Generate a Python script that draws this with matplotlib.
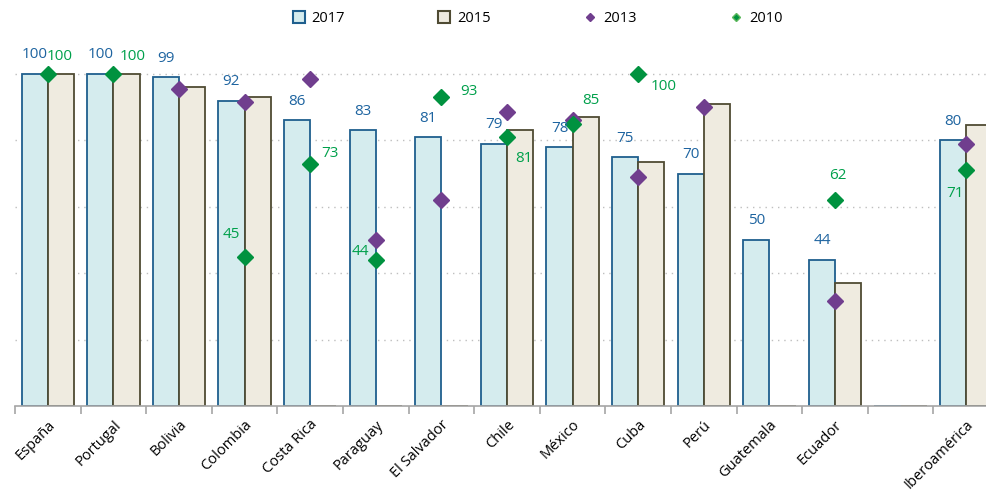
import numpy as np
import matplotlib
matplotlib.use("Agg")
import matplotlib.pyplot as plt
from matplotlib.lines import Line2D

nan = np.nan
categories = ["España", "Portugal", "Bolivia", "Colombia", "Costa Rica", "Paraguay",
              "El Salvador", "Chile", "México", "Cuba", "Perú", "Guatemala", "Ecuador",
              "", "Iberoamérica"]
v2017 = [100, 100, 99, 92, 86, 83, 81, 79, 78, 75, 70, 50, 44, nan, 80]
v2015 = [100, 100, 96, 93, nan, nan, nan, 83, 87, 73.5, 91, nan, 37, nan, 84.5]
v2013 = [nan, nan, 95.5, 91.5, 98.5, 50, 62, 88.5, 86, 69, 90, nan, 31.5, nan, 79]
v2010 = [100, 100, nan, 45, 73, 44, 93, 81, 85, 100, nan, nan, 62, nan, 71]

# label offsets (pixels) for the 2010 value labels
off2010 = {0: (12, 17), 1: (19, 18), 3: (-13, 22), 4: (20, 10), 5: (-15, 8),
           6: (28, 6), 7: (17, -21), 8: (18, 23), 9: (25, -12), 12: (3, 25),
           14: (-11, -23)}

c17_face, c17_edge = "#D5ECEE", "#1F5F8E"
c15_face, c15_edge = "#EFEBE0", "#4F4B33"
c13 = "#703E8E"
c10 = "#00923F"
lab17 = "#1E64A0"
lab10 = "#00A04B"

plt.rcParams['font.family'] = ['Open Sans', 'DejaVu Sans']

fig = plt.figure(figsize=(9.87, 4.92), dpi=100)
W, H = 987, 492
ppu = 3.32
ytop = 110
ax = fig.add_axes([15 / W, 86 / H, 972 / W, ytop * ppu / H])

x = np.arange(len(categories))
bw = 0.4
a17 = np.array(v2017, dtype=float)
a15 = np.array(v2015, dtype=float)
ax.bar(x - bw / 2, np.nan_to_num(a17), width=bw, color=c17_face, edgecolor=c17_edge,
       linewidth=1.3, zorder=2)
ax.bar(x + bw / 2, np.nan_to_num(a15), width=bw, color=c15_face, edgecolor=c15_edge,
       linewidth=1.3, zorder=2)
ax.plot(x, v2013, linestyle='none', marker='D', markersize=8, color=c13, zorder=3)
ax.plot(x, v2010, linestyle='none', marker='D', markersize=8, color=c10, zorder=4)

for i, v in enumerate(v2017):
    if not np.isnan(v):
        ax.annotate(f"{v:.0f}", (x[i] - bw / 2, v), xytext=(0, 19), textcoords='offset pixels',
                    ha='center', va='center', color=lab17, fontsize=11, zorder=5,
                    annotation_clip=False)
for i, (dx, dy) in off2010.items():
    v = v2010[i]
    ax.annotate(f"{v:.0f}", (x[i], v), xytext=(dx, dy), textcoords='offset pixels',
                ha='center', va='center', color=lab10, fontsize=11, zorder=5,
                annotation_clip=False)

ax.set_yticks([20, 40, 60, 80, 100])
ax.yaxis.grid(True, linestyle=(0, (1, 3.5)), color='#BFBFBF', linewidth=1)
ax.tick_params(axis='y', length=0, labelleft=False)
ax.set_axisbelow(True)
for s in ['top', 'right', 'left']:
    ax.spines[s].set_visible(False)
ax.spines['bottom'].set_color('#A6A6A6')
ax.spines['bottom'].set_linewidth(1.2)

ax.set_xticks(x)
ax.set_xticklabels(categories, rotation=45, ha='right', va='top', rotation_mode='anchor',
                   fontsize=10.5, color='#000000')
ax.tick_params(axis='x', which='major', length=0, pad=8)
ax.set_xticks(np.arange(-0.5, len(categories) + 0.5, 1), minor=True)
ax.tick_params(axis='x', which='minor', length=6, color='#A6A6A6', width=1.2)

ax.set_xlim(-0.5, -0.5 + 972 / 65.6)
ax.set_ylim(0, ytop)

handles = [
    Line2D([], [], linestyle='none', marker='s', markersize=9, markerfacecolor=c17_face,
           markeredgecolor=c17_edge, markeredgewidth=1.5),
    Line2D([], [], linestyle='none', marker='s', markersize=9, markerfacecolor=c15_face,
           markeredgecolor=c15_edge, markeredgewidth=1.5),
    Line2D([], [], linestyle='none', marker='D', markersize=4.5, color=c13),
    Line2D([], [], linestyle='none', marker='D', markersize=4.5, color=c10,
           markeredgecolor='#5DB85D'),
]
fig.legend(handles, ["2017", "2015", "2013", "2010"], ncol=4, loc='center',
           bbox_to_anchor=(537 / W, 1 - 19 / H), frameon=False, fontsize=10.5,
           handlelength=1.0, handletextpad=0.4, columnspacing=6.3)

fig.savefig("out.png", dpi=100)
